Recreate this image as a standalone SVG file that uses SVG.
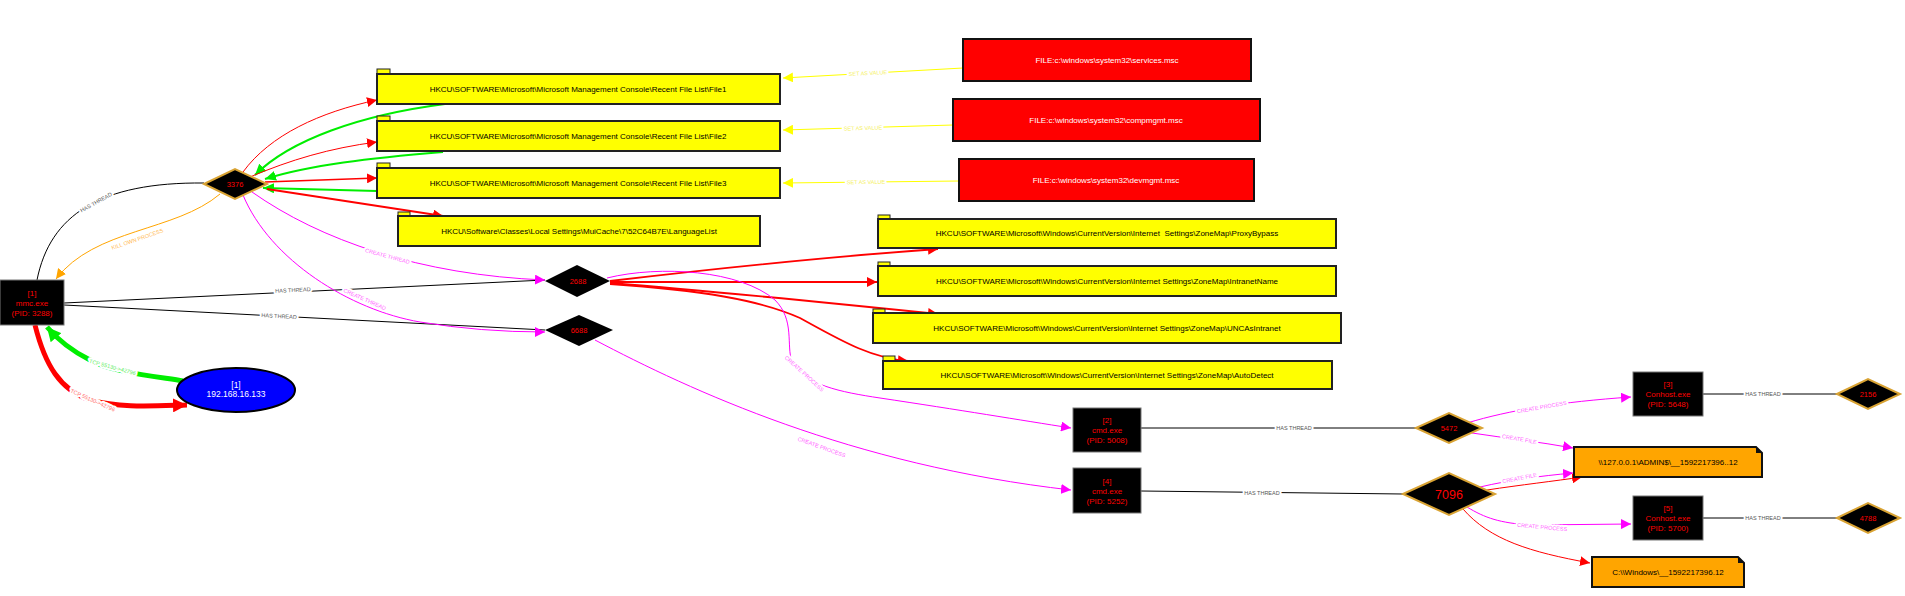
<svg xmlns="http://www.w3.org/2000/svg" width="1905" height="596" viewBox="0 0 1905 596">
<style>
text{font-family:"Liberation Sans",Arial,sans-serif;}
.bg{fill:#fff;}
.reg{fill:#ffff00;stroke:#222;stroke-width:2;}
.tab{fill:#ffff00;stroke:#222;stroke-width:1;}
.regt{font-size:8px;fill:#000;text-anchor:middle;}
.file{fill:#ff0000;stroke:#111;stroke-width:2;}
.filet{font-size:8px;fill:#fff;text-anchor:middle;}
.ofile{fill:#ffa500;stroke:#111;stroke-width:2;}
.ofilet{font-size:8px;fill:#000;text-anchor:middle;}
.proc{fill:#000;stroke:#777;stroke-width:1;}
.proct{font-size:8px;fill:#ff0000;text-anchor:middle;}
.dg{fill:#000;stroke:#d9a333;stroke-width:2;}
.db{fill:#000;}
.dt{font-size:7.5px;fill:#ff0000;text-anchor:middle;}
.e{fill:none;}
.blk{stroke:#000;stroke-width:1;}
.red{stroke:#ff0000;}
.grn{stroke:#00ee00;}
.mag{stroke:#ff00ff;stroke-width:1;}
.yel{stroke:#ffff00;stroke-width:1;}
.org{stroke:#ffa500;stroke-width:1;}
.lbl{font-size:5.5px;text-anchor:middle;stroke:#fff;stroke-width:4;paint-order:stroke;stroke-linejoin:round;}
.lk{fill:#555;}
.lm{fill:#ff66ff;}
.ly{fill:#f5f060;}
.lo{fill:#ffb84d;}
.lg{fill:#66ee66;}
.lr{fill:#ff6f6f;}
</style>
<defs>
<marker id="aR" markerUnits="userSpaceOnUse" markerWidth="10" markerHeight="10" refX="10" refY="5" orient="auto"><path d="M0,0 L10,5 L0,10 z" fill="#ff0000"/></marker>
<marker id="aG" markerUnits="userSpaceOnUse" markerWidth="11" markerHeight="10" refX="11" refY="5" orient="auto"><path d="M0,0 L11,5 L0,10 z" fill="#00ee00"/></marker>
<marker id="aM" markerUnits="userSpaceOnUse" markerWidth="10" markerHeight="10" refX="10" refY="5" orient="auto"><path d="M0,0 L10,5 L0,10 z" fill="#ff00ff"/></marker>
<marker id="aY" markerUnits="userSpaceOnUse" markerWidth="10" markerHeight="10" refX="10" refY="5" orient="auto"><path d="M0,0 L10,5 L0,10 z" fill="#ffff00"/></marker>
<marker id="aO" markerUnits="userSpaceOnUse" markerWidth="10" markerHeight="10" refX="10" refY="5" orient="auto"><path d="M0,0 L10,5 L0,10 z" fill="#ffa500"/></marker>
<marker id="aGb" markerUnits="userSpaceOnUse" markerWidth="14" markerHeight="14" refX="14" refY="7" orient="auto"><path d="M0,0 L14,7 L0,14 z" fill="#00ee00"/></marker>
<marker id="aRb" markerUnits="userSpaceOnUse" markerWidth="14" markerHeight="14" refX="14" refY="7" orient="auto"><path d="M0,0 L14,7 L0,14 z" fill="#ff0000"/></marker>
</defs>
<rect class="bg" x="0" y="0" width="1905" height="596"/>

<g id="connectors">
  <!-- mmc -> 3376 -->
  <path class="e blk" d="M37,280 C50,215 100,182 204,183"/>
  <!-- 3376 -> mmc kill -->
  <path class="e org" d="M220,194 C175,232 95,228 56,279" marker-end="url(#aO)"/>
  <!-- mmc -> 2688 / 6688 -->
  <path class="e blk" d="M64,303 L545,280"/>
  <path class="e blk" d="M64,305 L545,330"/>
  <!-- 3376 -> registry -->
  <path class="e red" stroke-width="1" d="M243,172 C270,135 320,112 377,100" marker-end="url(#aR)"/>
  <path class="e grn" stroke-width="2" d="M445,104 C360,115 290,140 255,175" marker-end="url(#aG)"/>
  <path class="e red" stroke-width="1" d="M250,177 C290,160 330,148 377,142" marker-end="url(#aR)"/>
  <path class="e grn" stroke-width="2" d="M443,152 C370,158 310,165 265,179" marker-end="url(#aG)"/>
  <path class="e red" stroke-width="1.3" d="M265,182 L377,178" marker-end="url(#aR)"/>
  <path class="e grn" stroke-width="2" d="M377,191 L263,188" marker-end="url(#aG)"/>
  <path class="e red" stroke-width="2" d="M267,189 L443,216" marker-end="url(#aR)"/>
  <!-- set as value -->
  <path class="e yel" d="M963,68 L783,78" marker-end="url(#aY)"/>
  <path class="e yel" d="M953,125 L783,130" marker-end="url(#aY)"/>
  <path class="e yel" d="M959,181 L783,183" marker-end="url(#aY)"/>
  <!-- create thread -->
  <path class="e mag" d="M252,192 C320,240 420,275 545,280" marker-end="url(#aM)"/>
  <path class="e mag" d="M243,195 C270,260 350,310 420,322 Q480,332 545,332" marker-end="url(#aM)"/>
  <!-- 2688 -> zonemap -->
  <path class="e red" stroke-width="1.8" d="M610,281 C720,268 840,256 938,249" marker-end="url(#aR)"/>
  <path class="e red" stroke-width="1.8" d="M610,282 L877,282" marker-end="url(#aR)"/>
  <path class="e red" stroke-width="1.8" d="M610,283 C700,290 850,305 938,314" marker-end="url(#aR)"/>
  <path class="e red" stroke-width="1.8" d="M610,284 C700,290 760,300 800,318 C840,340 870,358 908,361" marker-end="url(#aR)"/>
  <!-- create process -->
  <path class="e mag" d="M607,278 C660,265 740,270 775,300 C795,320 786,345 792,362 C805,385 840,392 880,398 C960,410 1020,420 1071,428" marker-end="url(#aM)"/>
  <path class="e mag" d="M595,340 C690,390 850,465 1071,490" marker-end="url(#aM)"/>
  <!-- has thread -->
  <path class="e blk" d="M1141,428 L1416,428"/>
  <path class="e blk" d="M1141,491 L1403,494"/>
  <path class="e blk" d="M1703,394 L1837,394"/>
  <path class="e blk" d="M1703,518 L1837,518"/>
  <!-- 5472 / 7096 -->
  <path class="e mag" d="M1467,423 C1510,410 1560,402 1631,397" marker-end="url(#aM)"/>
  <path class="e mag" d="M1472,433 C1505,438 1540,442 1573,448" marker-end="url(#aM)"/>
  <path class="e mag" d="M1480,487 C1510,480 1540,476 1573,473" marker-end="url(#aM)"/>
  <path class="e red" stroke-width="1" d="M1487,490 C1520,485 1555,481 1582,477" marker-end="url(#aR)"/>
  <path class="e mag" d="M1467,507 C1485,518 1500,523 1530,525 L1631,524" marker-end="url(#aM)"/>
  <path class="e red" stroke-width="1" d="M1463,509 C1490,540 1530,552 1590,563" marker-end="url(#aR)"/>
  <!-- tcp -->
  <path class="e grn" stroke-width="5" d="M183,381 C160,377 110,372 90,360 C70,350 58,340 47,327" marker-end="url(#aGb)"/>
  <path class="e red" stroke-width="5" d="M35,325 C45,365 60,390 90,400 C120,408 150,406 187,405" marker-end="url(#aRb)"/>

  <!-- labels -->
  <text class="lbl lk" transform="translate(97,204) rotate(-29)">HAS THREAD</text>
  <text class="lbl lo" transform="translate(138,241) rotate(-19)">KILL OWN PROCESS</text>
  <text class="lbl lk" transform="translate(293,292) rotate(-2.7)">HAS THREAD</text>
  <text class="lbl lk" transform="translate(279,318) rotate(3)">HAS THREAD</text>
  <text class="lbl lm" transform="translate(387,258) rotate(15)">CREATE THREAD</text>
  <text class="lbl lm" transform="translate(364,301) rotate(24)">CREATE THREAD</text>
  <text class="lbl ly" transform="translate(868,75) rotate(-3)">SET AS VALUE</text>
  <text class="lbl ly" transform="translate(863,130) rotate(-1.7)">SET AS VALUE</text>
  <text class="lbl ly" transform="translate(866,184) rotate(-0.5)">SET AS VALUE</text>
  <text class="lbl lm" transform="translate(803,375) rotate(42)">CREATE PROCESS</text>
  <text class="lbl lm" transform="translate(821,449) rotate(20)">CREATE PROCESS</text>
  <text class="lbl lk" transform="translate(1294,430)">HAS THREAD</text>
  <text class="lbl lk" transform="translate(1262,495)">HAS THREAD</text>
  <text class="lbl lk" transform="translate(1763,396)">HAS THREAD</text>
  <text class="lbl lk" transform="translate(1763,520)">HAS THREAD</text>
  <text class="lbl lm" transform="translate(1542,409) rotate(-10)">CREATE PROCESS</text>
  <text class="lbl lm" transform="translate(1519,441) rotate(10)">CREATE FILE</text>
  <text class="lbl lm" transform="translate(1520,480) rotate(-11)">CREATE FILE</text>
  <text class="lbl lm" transform="translate(1542,529) rotate(5)">CREATE PROCESS</text>
  <text class="lbl lg" transform="translate(112,369) rotate(15)">TCP 55130-&gt;42796</text>
  <text class="lbl lr" transform="translate(92,402) rotate(24)">TCP 55130-&gt;42796</text>
</g>

<g id="n-mmc">
  <rect class="proc" x="0" y="280" width="64" height="45"/>
  <text class="proct" x="32" y="296">[1]</text>
  <text class="proct" x="32" y="306">mmc.exe</text>
  <text class="proct" x="32" y="316">(PID: 3288)</text>
</g>
<g id="n-ip">
  <ellipse cx="236" cy="390" rx="59" ry="22" fill="#0000ff" stroke="#000" stroke-width="2"/>
  <text x="236" y="388" font-size="8.5" fill="#fff" text-anchor="middle">[1]</text>
  <text x="236" y="397" font-size="8.5" fill="#fff" text-anchor="middle">192.168.16.133</text>
</g>
<g id="n-3376">
  <polygon class="dg" points="204,184 235,169 267,184 235,199"/>
  <text class="dt" x="235" y="187">3376</text>
</g>
<g id="n-file1">
  <rect class="tab" x="377" y="69" width="13" height="5"/>
  <rect class="reg" x="377" y="74" width="403" height="30"/>
  <text class="regt" x="578" y="92">HKCU\SOFTWARE\Microsoft\Microsoft Management Console\Recent File List\File1</text>
</g>
<g id="n-file2">
  <rect class="tab" x="377" y="116" width="13" height="5"/>
  <rect class="reg" x="377" y="121" width="403" height="30"/>
  <text class="regt" x="578" y="139">HKCU\SOFTWARE\Microsoft\Microsoft Management Console\Recent File List\File2</text>
</g>
<g id="n-file3">
  <rect class="tab" x="377" y="163" width="13" height="5"/>
  <rect class="reg" x="377" y="168" width="403" height="30"/>
  <text class="regt" x="578" y="186">HKCU\SOFTWARE\Microsoft\Microsoft Management Console\Recent File List\File3</text>
</g>
<g id="n-lang">
  <rect class="tab" x="398" y="212" width="12" height="4"/>
  <rect class="reg" x="398" y="216" width="362" height="30"/>
  <text class="regt" x="579" y="234">HKCU\Software\Classes\Local Settings\MuiCache\7\52C64B7E\LanguageList</text>
</g>
<g id="n-services">
  <rect class="file" x="963" y="39" width="288" height="42"/>
  <text class="filet" x="1107" y="63">FILE:c:\windows\system32\services.msc</text>
</g>
<g id="n-compmgmt">
  <rect class="file" x="953" y="99" width="307" height="42"/>
  <text class="filet" x="1106" y="123">FILE:c:\windows\system32\compmgmt.msc</text>
</g>
<g id="n-devmgmt">
  <rect class="file" x="959" y="159" width="295" height="42"/>
  <text class="filet" x="1106" y="183">FILE:c:\windows\system32\devmgmt.msc</text>
</g>
<g id="n-2688">
  <polygon class="db" points="545,281 577,265 610,281 577,297"/>
  <text class="dt" x="578" y="284">2688</text>
</g>
<g id="n-6688">
  <polygon class="db" points="545,330 579,315 613,330 579,346"/>
  <text class="dt" x="579" y="333">6688</text>
</g>
<g id="n-proxy">
  <rect class="tab" x="878" y="215" width="12" height="4"/>
  <rect class="reg" x="878" y="219" width="458" height="29"/>
  <text class="regt" x="1107" y="236" xml:space="preserve">HKCU\SOFTWARE\Microsoft\Windows\CurrentVersion\Internet  Settings\ZoneMap\ProxyBypass</text>
</g>
<g id="n-intranet">
  <rect class="tab" x="878" y="262" width="12" height="4"/>
  <rect class="reg" x="878" y="266" width="458" height="30"/>
  <text class="regt" x="1107" y="284">HKCU\SOFTWARE\Microsoft\Windows\CurrentVersion\Internet Settings\ZoneMap\IntranetName</text>
</g>
<g id="n-unc">
  <rect class="tab" x="873" y="309" width="12" height="4"/>
  <rect class="reg" x="873" y="313" width="468" height="30"/>
  <text class="regt" x="1107" y="331">HKCU\SOFTWARE\Microsoft\Windows\CurrentVersion\Internet Settings\ZoneMap\UNCAsIntranet</text>
</g>
<g id="n-autodetect">
  <rect class="tab" x="883" y="356" width="12" height="5"/>
  <rect class="reg" x="883" y="361" width="449" height="28"/>
  <text class="regt" x="1107" y="378">HKCU\SOFTWARE\Microsoft\Windows\CurrentVersion\Internet Settings\ZoneMap\AutoDetect</text>
</g>
<g id="n-cmd2">
  <rect class="proc" x="1073" y="408" width="68" height="44"/>
  <text class="proct" x="1107" y="423">[2]</text>
  <text class="proct" x="1107" y="433">cmd.exe</text>
  <text class="proct" x="1107" y="443">(PID: 5008)</text>
</g>
<g id="n-cmd4">
  <rect class="proc" x="1073" y="468" width="68" height="45"/>
  <text class="proct" x="1107" y="484">[4]</text>
  <text class="proct" x="1107" y="494">cmd.exe</text>
  <text class="proct" x="1107" y="504">(PID: 5252)</text>
</g>
<g id="n-5472">
  <polygon class="dg" points="1416,428 1449,413 1482,428 1449,443"/>
  <text class="dt" x="1449" y="431">5472</text>
</g>
<g id="n-7096">
  <polygon class="dg" points="1403,494 1449,473 1495,494 1449,515"/>
  <text x="1449" y="499" font-size="12.5" fill="#ff0000" text-anchor="middle">7096</text>
</g>
<g id="n-conhost3">
  <rect class="proc" x="1633" y="372" width="70" height="44"/>
  <text class="proct" x="1668" y="387">[3]</text>
  <text class="proct" x="1668" y="397">Conhost.exe</text>
  <text class="proct" x="1668" y="407">(PID: 5648)</text>
</g>
<g id="n-conhost5">
  <rect class="proc" x="1633" y="496" width="70" height="44"/>
  <text class="proct" x="1668" y="511">[5]</text>
  <text class="proct" x="1668" y="521">Conhost.exe</text>
  <text class="proct" x="1668" y="531">(PID: 5700)</text>
</g>
<g id="n-2156">
  <polygon class="dg" points="1837,394 1868,379 1900,394 1868,409"/>
  <text class="dt" x="1868" y="397">2156</text>
</g>
<g id="n-4788">
  <polygon class="dg" points="1837,518 1868,503 1900,518 1868,533"/>
  <text class="dt" x="1868" y="521">4788</text>
</g>
<g id="n-admin">
  <path class="ofile" d="M1574,447 H1756 L1762,453 V477 H1574 Z"/>
  <path d="M1756,447 L1762,453 L1756,453 Z" fill="#111"/>
  <text class="ofilet" x="1668" y="465">\\127.0.0.1\ADMIN$\__1592217396..12</text>
</g>
<g id="n-cwin">
  <path class="ofile" d="M1592,557 H1738 L1744,563 V587 H1592 Z"/>
  <path d="M1738,557 L1744,563 L1738,563 Z" fill="#111"/>
  <text class="ofilet" x="1668" y="575">C:\\Windows\__1592217396.12</text>
</g>
</svg>
